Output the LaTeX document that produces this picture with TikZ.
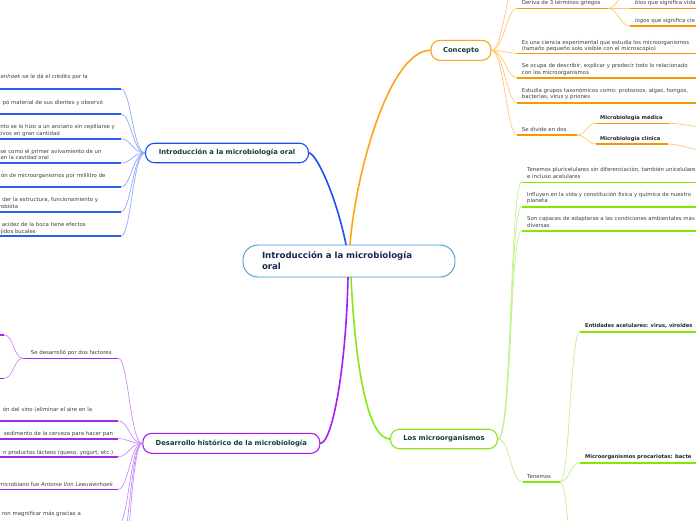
\documentclass[tikz,border=0pt]{standalone}
\usepackage{fontspec}
\setmainfont{DejaVu Sans}
\definecolor{bMain}{HTML}{1D4FF2}
\definecolor{bLine}{HTML}{2B5CF5}
\definecolor{bSoft}{HTML}{8FA9FB}
\definecolor{oMain}{HTML}{FFA31A}
\definecolor{oLine}{HTML}{F59B00}
\definecolor{oSoft}{HTML}{FFC870}
\definecolor{pMain}{HTML}{A51FF5}
\definecolor{pLine}{HTML}{A426F5}
\definecolor{pSoft}{HTML}{CC8CFB}
\definecolor{gMain}{HTML}{8AE61A}
\definecolor{gLine}{HTML}{86E600}
\definecolor{gSoft}{HTML}{C2F08A}
\definecolor{nodeText}{HTML}{123F31}
\definecolor{rootBorder}{HTML}{3F9AD8}
\definecolor{rootText}{HTML}{1A2850}
\definecolor{txtGray}{HTML}{404040}
\tikzset{
  txt/.style={font=\fontsize{5.4}{6.5}\selectfont, text=txtGray, inner sep=0pt},
  btxt/.style={font=\fontsize{5.2}{6.5}\selectfont\bfseries, text=black!85, inner sep=0pt},
  topic/.style={draw, line width=1.1pt, rounded corners=9pt, fill=white, inner sep=0pt,
    font=\fontsize{6.8}{8}\selectfont\bfseries, text=nodeText, minimum height=19.5pt},
  mainbr/.style={line width=1.6pt, line cap=round},
  uline/.style={line width=1.6pt},
  soft/.style={line width=0.7pt},
  lr/.style={out=0,in=180,out distance=10pt,in distance=12pt},
}
\begin{document}
\begin{tikzpicture}[x=1pt,y=-1pt]
\useasboundingbox (0,0) rectangle (696,520);
\fill[white] (0,0) rectangle (696,520);
\clip (0,0) rectangle (696,520);

% ---------- nodes ----------
\node[draw=rootBorder, line width=0.9pt, rounded corners=15pt, fill=white,
  minimum width=212pt, minimum height=32pt, inner xsep=19pt, text width=174pt, align=left,
  font=\fontsize{8.6}{11}\selectfont\bfseries, text=rootText] (root) at (349,261)
  {Introducción a la microbiología\\oral};
\node[topic, draw=bMain, minimum width=163pt] (bn) at (227,153) {Introducción a la microbiología oral};
\node[topic, draw=oMain, minimum width=60pt, minimum height=20pt] (cn) at (461,50.3) {Concepto};
\node[topic, draw=pMain, minimum width=177pt, minimum height=20pt] (pn) at (231.3,443.3) {Desarrollo histórico de la microbiología};
\node[topic, draw=gMain, minimum width=107pt] (gn) at (444,439) {Los microorganismos};

% ---------- main branches ----------
\draw[mainbr, bMain] ([xshift=-3pt]root.north) .. controls (336,195) and (316,153) .. (bn.east);
\draw[mainbr, oMain] ([xshift=1pt]root.north) .. controls (356,170) and (390,50.3) .. (cn.west);
\draw[mainbr, pMain] ([xshift=-1pt]root.south) .. controls (346,370) and (332,443.3) .. (pn.east);
\draw[mainbr, gMain] ([xshift=2pt]root.south) .. controls (356,380) and (370,439) .. (gn.west);

% ---------- blue (left) ----------
\foreach \y [count=\i] in {89,114,138.7,163,187,211.7,236} {
  \coordinate (be\i) at (121,\y);
  \draw[soft, bSoft] (be\i) to[lr] (bn.west);
  \draw[uline, bLine] (be\i) -- (-5,\y);
}
\node[txt, anchor=mid east] (b1) at (88,75.7) {\textit{enhoek} se le dá el crédito por la};
\node[txt, anchor=mid east] (b2) at (103,101.3) {pó material de sus dientes y observó};
\node[txt, anchor=mid east] (b3a) at (115,126) {nto se lo hizo a un anciano sin cepillarse y};
\node[txt, anchor=mid east] (b3b) at (60,132.3) {tivos en gran cantidad};
\node[txt, anchor=mid east] (b4a) at (101.7,150.3) {se como el primer avivamiento de un};
\node[txt, anchor=mid east] (b4b) at (49,156.8) {en la cavidad oral};
\node[txt, anchor=mid east] (b5) at (105.7,175) {ón de microorganismos por mililitro de};
\node[txt, anchor=mid east] (b6a) at (98.3,199) {der la estructura, funcionamiento y};
\node[txt, anchor=mid east] (b6b) at (18.3,205.5) {robiota};
\node[txt, anchor=mid east] (b7a) at (86,224) {acidez de la boca tiene efectos};
\node[txt, anchor=mid east] (b7b) at (36,230.5) {ejidos bucales};

% ---------- orange (Concepto) ----------
\coordinate (oTop) at (517,-22);
\draw[soft, oSoft] (cn.east) to[out=0,in=180,out distance=12pt,in distance=10pt] (oTop);
\foreach \y [count=\i] in {8.3,53.3,77.7,102.7,135} {
  \coordinate (oe\i) at (517,\y);
  \draw[soft, oSoft] (cn.east) to[out=0,in=180,out distance=12pt,in distance=10pt] (oe\i);
}
\foreach \i in {2,3,4} {\draw[uline, oLine] (oe\i) -- ++(190,0);}
\coordinate (oD) at (608,8.3);
\draw[uline, oLine] (oe1) -- (oD);
\coordinate (oS) at (577,135);
\draw[uline, oLine] (oe5) -- (oS);
\coordinate (oMicro) at (630,-10);
\coordinate (oBios) at (630,8.3);
\coordinate (oLogos) at (630,26);
\draw[soft, oSoft] (oD) to[out=0,in=180,out distance=10pt,in distance=10pt] (oMicro);
\draw[soft, oSoft] (oD) -- (oBios);
\draw[soft, oSoft] (oD) to[out=0,in=180,out distance=10pt,in distance=10pt] (oLogos);
\draw[uline, oLine] (oMicro) -- ++(80,0);
\draw[uline, oLine] (oBios) -- ++(80,0);
\draw[uline, oLine] (oLogos) -- ++(80,0);
\coordinate (oMed) at (596,123.3);
\coordinate (oCli) at (596,144);
\draw[soft, oSoft] (oS) to[out=0,in=180,out distance=9pt,in distance=9pt] (oMed);
\draw[soft, oSoft] (oS) to[out=0,in=180,out distance=9pt,in distance=9pt] (oCli);
\coordinate (oMedE) at (670,123.3);
\coordinate (oCliE) at (668,144);
\draw[uline, oLine] (oMed) -- (oMedE);
\draw[uline, oLine] (oCli) -- (oCliE);
\coordinate (oMedR) at (712,128);
\coordinate (oCliR) at (712,152);
\draw[soft, oSoft] (oMedE) to[out=0,in=180,out distance=12pt,in distance=12pt] (oMedR);
\draw[soft, oSoft] (oCliE) to[out=0,in=180,out distance=12pt,in distance=12pt] (oCliR);

\node[txt, anchor=mid west] (o1) at (521.7,1.9) {Deriva de 3 términos griegos};
\node[txt, anchor=mid west] (o2a) at (521.7,41.3) {Es una ciencia experimental que estudia los microorganismos};
\node[txt, anchor=mid west] (o2b) at (521.7,47.5) {(tamaño pequeño solo visible con el microscopio)};
\node[txt, anchor=mid west] (o3a) at (521.7,65) {Se ocupa de describir, explicar y predecir todo lo relacionado};
\node[txt, anchor=mid west] (o3b) at (521.7,71.5) {con los microorganismos};
\node[txt, anchor=mid west] (o4a) at (521.7,89.7) {Estudia grupos taxonómicos como: protozoos, algas, hongos,};
\node[txt, anchor=mid west] (o4b) at (521.7,96.2) {bacterias, virus y priones};
\node[txt, anchor=mid west] (o5) at (521.7,128.7) {Se divide en dos};
\node[txt, anchor=mid west] (oB) at (635,1.9) {\textit{bios} que significa vida};
\node[txt, anchor=mid west] (oL) at (635,20) {\textit{logos} que significa cie};
\node[btxt, anchor=mid west] (oM) at (600,117) {Microbiología médica};
\node[btxt, anchor=mid west] (oC) at (600,137.7) {Microbiología clínica};

% ---------- green (Los microorganismos) ----------
\foreach \y [count=\i] in {182.3,206.7,231} {
  \coordinate (ge\i) at (521.7,\y);
  \draw[soft, gSoft] (gn.east) to[out=0,in=180,out distance=14pt,in distance=12pt] (ge\i);
  \draw[uline, gLine] (ge\i) -- ++(190,0);
}
\coordinate (gT) at (522.7,481.7);
\coordinate (gTE) at (560,481.7);
\draw[soft, gSoft] (gn.east) to[out=0,in=180,out distance=12pt,in distance=12pt] (gT);
\draw[uline, gLine] (gT) -- (gTE);
\coordinate (gEnt) at (580,331.7);
\coordinate (gPro) at (580,462.7);
\coordinate (gLow) at (580,620);
\draw[soft, gSoft] (gTE) to[out=0,in=180,out distance=10pt,in distance=10pt] (gEnt);
\draw[soft, gSoft] (gTE) to[out=0,in=180,out distance=10pt,in distance=10pt] (gPro);
\draw[soft, gSoft] (gTE) to[out=0,in=180,out distance=10pt,in distance=10pt] (gLow);
\draw[uline, gLine] (gEnt) -- ++(130,0);
\draw[uline, gLine] (gPro) -- ++(130,0);

\node[txt, anchor=mid west] (g1a) at (527,169) {Tenemos pluricelulares sin diferenciación, también unicelulares};
\node[txt, anchor=mid west] (g1b) at (527,175.3) {e incluso acelulares};
\node[txt, anchor=mid west] (g2a) at (527,193.7) {Influyen en la vida y constitución física y química de nuestro};
\node[txt, anchor=mid west] (g2b) at (527,200) {planeta};
\node[txt, anchor=mid west] (g3a) at (527,218) {Son capaces de adaptarse a las condiciones ambientales más};
\node[txt, anchor=mid west] (g3b) at (527,224.5) {diversas};
\node[txt, anchor=mid west] (g4) at (527,476) {Tenemos};
\node[btxt, anchor=mid west] (g5) at (585,325) {Entidades acelulares: virus, viroides};
\node[btxt, anchor=mid west] (g6) at (585,455.7) {Microorganismos procariotas: bacte};

% ---------- purple (Desarrollo) ----------
\foreach \y [count=\i] in {358.3,420.7,438.7,456.7,489.3,525,560,600} {
  \coordinate (pe\i) at (118.3,\y);
  \draw[soft, pSoft] (pe\i) to[lr] (pn.west);
}
\foreach \i in {2,3,4,5,6,7,8} {\draw[uline, pLine] (pe\i) -- ++(-130,0);}
\coordinate (pS) at (23.3,358.3);
\draw[uline, pLine] (pe1) -- (pS);
\coordinate (pF1) at (4,335);
\coordinate (pF2) at (4,378.3);
\draw[soft, pSoft] (pS) to[out=180,in=0,out distance=10pt,in distance=10pt] (pF1);
\draw[soft, pSoft] (pS) to[out=180,in=0,out distance=10pt,in distance=10pt] (pF2);
\draw[uline, pLine] (pF1) -- ++(-12,0);
\draw[uline, pLine] (pF2) -- ++(-12,0);

\node[txt, anchor=mid west] (p1) at (30.7,352) {Se desarrolló por dos factores};
\node[txt, anchor=mid east] (p2) at (92.3,408.3) {ón del vino (eliminar el aire en la};
\node[txt, anchor=mid east] (p3) at (113.3,433) {sedimento de la cerveza para hacer pan};
\node[txt, anchor=mid east] (p4) at (113.3,451.3) {n productos lácteos (queso, yogurt, etc.)};
\node[txt, anchor=mid east] (p5) at (113.3,483.3) {microbiano fue \textit{Antonie Von Leeuwenhoek}};
\node[txt, anchor=mid east] (p6) at (81,512.7) {ron magnificar más gracias a};
\end{tikzpicture}
\end{document}
